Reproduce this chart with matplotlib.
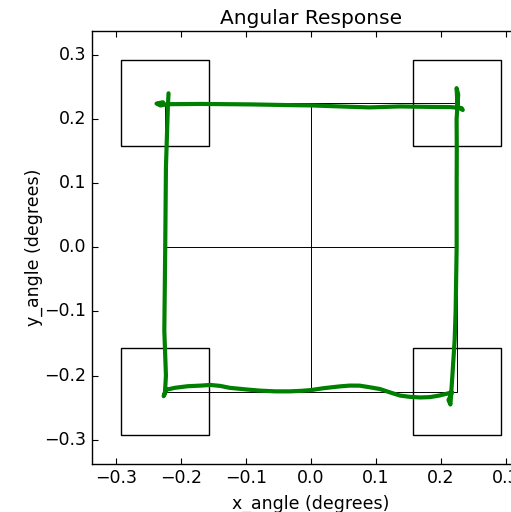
import matplotlib
matplotlib.use("Agg")
import matplotlib.pyplot as plt
from matplotlib.patches import Rectangle

plt.style.use("classic")
plt.rcParams["font.family"] = ["DejaVu Sans"]

# Target boxes (centre x, centre y) and their half width
box_cx = [-0.225, 0.225, -0.225, 0.225]
box_cy = [0.225, 0.225, -0.225, -0.225]
box_half = 0.0675

# Commanded square and centre cross half size
guide_half = 0.225

# Measured angular trace: top edge, right edge, bottom edge, left edge
top_x = [-0.228, -0.238, -0.232, -0.222, -0.170, -0.094, -0.030, 0.000, 0.045,
         0.090, 0.137, 0.183, 0.215, 0.232, 0.234, 0.226]
top_y = [0.226, 0.224, 0.221, 0.223, 0.2234, 0.2227, 0.2215, 0.2211, 0.2195,
         0.218, 0.2195, 0.2188, 0.2185, 0.217, 0.214, 0.219]
right_x = [0.2245, 0.227, 0.2245, 0.2248, 0.2246, 0.2246, 0.223, 0.2215, 0.218,
           0.215, 0.212, 0.216, 0.217]
right_y = [0.248, 0.238, 0.200, 0.150, 0.100, 0.000, -0.100, -0.145, -0.200,
           -0.245, -0.238, -0.230, -0.226]
bottom_x = [0.210, 0.198, 0.183, 0.168, 0.152, 0.137, 0.120, 0.106, 0.090, 0.075,
            0.060, 0.045, 0.020, 0.000, -0.015, -0.032, -0.055, -0.078, -0.100,
            -0.125, -0.140, -0.155, -0.171, -0.190, -0.210, -0.223]
bottom_y = [-0.228, -0.231, -0.2335, -0.234, -0.233, -0.231, -0.2255, -0.2208,
            -0.218, -0.2156, -0.2155, -0.2167, -0.2195, -0.2225, -0.2237, -0.2245,
            -0.2245, -0.2234, -0.2215, -0.219, -0.216, -0.2145, -0.2156, -0.2165,
            -0.219, -0.222]
left_x = [-0.227, -0.225, -0.2235, -0.226, -0.2246, -0.2235, -0.2205, -0.2195]
left_y = [-0.232, -0.226, -0.200, -0.130, 0.000, 0.125, 0.220, 0.240]

x_ticks = [-0.3, -0.2, -0.1, 0.0, 0.1, 0.2, 0.3]
y_ticks = [-0.3, -0.2, -0.1, 0.0, 0.1, 0.2, 0.3]
lim = 0.3375

trace_x = top_x + right_x + bottom_x + left_x
trace_y = top_y + right_y + bottom_y + left_y

fig = plt.figure(figsize=(5.11, 5.12), dpi=100, facecolor="white")
ax = fig.add_axes([0.18, 0.094, 0.857, 0.846])
ax.set_facecolor("white")

for cx, cy in zip(box_cx, box_cy):
    ax.add_patch(Rectangle((cx - box_half, cy - box_half), 2 * box_half, 2 * box_half,
                           fill=False, edgecolor="black", linewidth=1.0))

g = guide_half
ax.plot([-g, g, g, -g, -g], [g, g, -g, -g, g], color="black", linewidth=0.7)
ax.plot([0, 0], [-g, g], color="black", linewidth=0.7)
ax.plot([-g, g], [0, 0], color="black", linewidth=0.7)

ax.plot(trace_x, trace_y, color="green", linewidth=3.0, solid_joinstyle="round",
        solid_capstyle="round")

ax.set_xlim(-lim, lim)
ax.set_ylim(-lim, lim)
ax.set_xticks(x_ticks)
ax.set_yticks(y_ticks)
ax.tick_params(direction="in", length=4, width=0.8, labelsize=12.5, top=True, right=True)
for s in ax.spines.values():
    s.set_linewidth(1.0)

ax.set_title("Angular Response", fontsize=14.5)
ax.set_xlabel("x_angle (degrees)", fontsize=12.5, labelpad=5)
ax.set_ylabel("y_angle (degrees)", fontsize=12.5, labelpad=1)

fig.savefig("out.png", dpi=100, facecolor="white")
